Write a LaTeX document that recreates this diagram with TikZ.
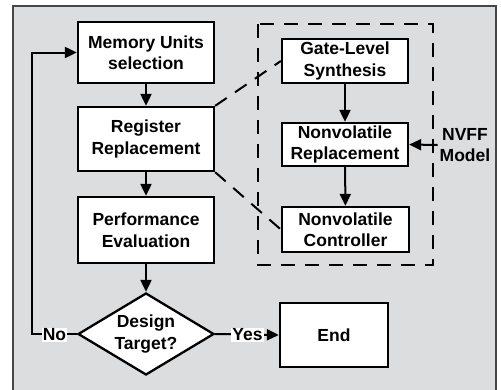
\documentclass[tikz,border=0pt]{standalone}
\usepackage{fontspec}
\setmainfont{Liberation Sans}
\usetikzlibrary{shapes.geometric,arrows.meta}
\begin{document}
\begin{tikzpicture}[x=1pt,y=-1pt,
  txt/.style={font=\fontsize{17.5}{21.5}\selectfont\bfseries, align=center},
  box/.style={txt, draw=black, fill=white, line width=2.3pt, inner sep=0pt},
  arr/.style={line width=2pt, -{Triangle[length=12pt,width=11pt]}},
  dsh/.style={line width=2pt, dash pattern=on 14pt off 10pt},
  lbl/.style={txt, fill=white, inner sep=1pt}]
\useasboundingbox (0,0) rectangle (501,389);
\fill[fill=white] (0,0) rectangle (501,389);
\fill[fill={rgb,255:red,220;green,221;blue,222}] (13,6) rectangle (496,392);
\draw[line width=1.4pt, draw={rgb,255:red,70;green,70;blue,70}] (13,392) -- (13,6) -- (496,6) -- (496,392);
% main column
\node[box, minimum width=136pt, minimum height=61pt] (mem) at (146,52.5) {Memory Units\\selection};
\node[box, minimum width=136pt, minimum height=64pt] (reg) at (146,139) {Register\\Replacement};
\node[box, minimum width=136pt, minimum height=66pt] (perf) at (146,230) {Performance\\Evaluation};
\node[diamond, draw=black, fill=white, line width=2.3pt, inner sep=0pt, minimum width=136pt, minimum height=82pt] (dec) at (146,334) {};
\node[txt] (dectxt) at (146,334) {Design\\Target?};
\node[box, minimum width=108pt, minimum height=64pt] (end) at (334,335) {End};
% dashed region
\draw[dsh] (258,24) rectangle (433,265);
\node[box, minimum width=126pt, minimum height=44pt] (gate) at (345,61) {Gate-Level\\Synthesis};
\node[box, minimum width=126pt, minimum height=43pt] (nvrep) at (345,144.5) {Nonvolatile\\Replacement};
\node[box, minimum width=127pt, minimum height=45pt] (nvctl) at (345.5,229.5) {Nonvolatile\\Controller};
\node[txt, inner sep=2pt] (nvff) at (465,145) {NVFF\\Model};
% connectors
\draw[arr] (mem) -- (reg);
\draw[arr] (reg) -- (perf);
\draw[arr] (perf) -- (dec);
\draw[arr] (gate) -- (nvrep);
\draw[arr] (nvrep) -- (nvctl);
\draw[arr] (nvff.west) -- (nvrep.east);
\draw[dsh] (reg.north east) -- (gate.west);
\draw[dsh] (reg.south east) -- (nvctl.west);
\coordinate (lb) at (32,334);
\coordinate (lt) at (32,52.5);
\draw[arr] (dec.west) -- (lb) -- (lt) -- (mem.west);
\draw[arr] (dec.east) -- (end.west);
\node[lbl] (no) at (54.5,335) {No};
\node[lbl] (yes) at (247.5,335) {Yes};
\end{tikzpicture}
\end{document}
